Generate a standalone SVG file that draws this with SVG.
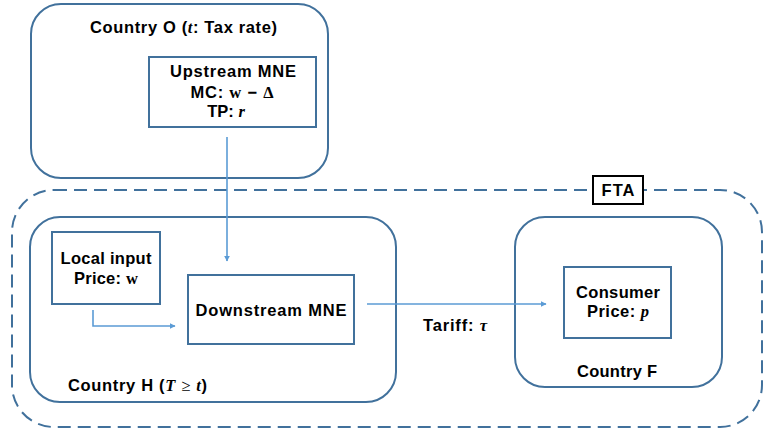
<svg xmlns="http://www.w3.org/2000/svg" width="766" height="432" viewBox="0 0 766 432">
<style>
.t{font-family:"Liberation Sans",Arial,sans-serif;font-weight:bold;font-size:16.5px;fill:#000}
.m{font-family:"Liberation Serif","DejaVu Serif",serif;font-style:italic;font-weight:bold}
.u{font-family:"Liberation Serif","DejaVu Serif",serif;font-style:normal;font-weight:bold}
.r{font-family:"Liberation Serif","DejaVu Serif",serif;font-weight:normal}
.reg{fill:#fff;stroke:#41719C;stroke-width:2}
.box{fill:#fff;stroke:#41719C;stroke-width:2}
.c{fill:none;stroke:#5B9BD5;stroke-width:1.6}
</style>
<defs>
<marker id="ah" viewBox="0 0 10 10" refX="9" refY="5" markerWidth="6" markerHeight="6" markerUnits="userSpaceOnUse" orient="auto">
<path d="M0,0 L10,5 L0,10 Z" fill="#5B9BD5"/>
</marker>
</defs>
<rect width="766" height="432" fill="#fff"/>
<g id="fta">
<rect x="12" y="190" width="750" height="237" rx="42" ry="42" fill="none" stroke="#41719C" stroke-width="2" stroke-dasharray="13 7"/>
<rect x="593" y="176" width="50" height="28" fill="#fff" stroke="#000" stroke-width="2"/>
<text class="t" x="618" y="196" text-anchor="middle" textLength="33" lengthAdjust="spacing">FTA</text>
</g>
<g id="countryO">
<rect class="reg" x="31" y="4" width="297" height="174" rx="30" ry="30"/>
<text class="t" x="90" y="33" textLength="187" lengthAdjust="spacing">Country O (<tspan class="m">t</tspan>: Tax rate)</text>
</g>
<g id="countryH">
<rect class="reg" x="30" y="217" width="366" height="185" rx="30" ry="30"/>
<text class="t" x="68" y="391" textLength="139" lengthAdjust="spacing">Country H (<tspan class="m">T</tspan> <tspan class="r">≥</tspan> <tspan class="m">t</tspan>)</text>
</g>
<g id="countryF">
<rect class="reg" x="515" y="217" width="207" height="170" rx="30" ry="30"/>
<text class="t" x="617" y="377" text-anchor="middle" textLength="80" lengthAdjust="spacing">Country F</text>
</g>
<g id="upstream">
<rect class="box" x="149" y="57" width="167" height="70"/>
<text class="t" x="233" y="77" text-anchor="middle" textLength="126" lengthAdjust="spacing">Upstream MNE</text>
<text class="t" x="232" y="98" text-anchor="middle" textLength="83" lengthAdjust="spacing">MC: <tspan class="u">w</tspan> − <tspan class="u">Δ</tspan></text>
<text class="t" x="226" y="117" text-anchor="middle">TP: <tspan class="m">r</tspan></text>
</g>
<g id="local">
<rect class="box" x="52" y="232" width="108" height="72"/>
<text class="t" x="106" y="264" text-anchor="middle" textLength="91" lengthAdjust="spacing">Local input</text>
<text class="t" x="106" y="284" text-anchor="middle" textLength="64" lengthAdjust="spacing">Price: <tspan class="u">w</tspan></text>
</g>
<g id="downstream">
<rect class="box" x="188" y="275" width="166" height="69"/>
<text class="t" x="271" y="316" text-anchor="middle" textLength="151" lengthAdjust="spacing">Downstream MNE</text>
</g>
<g id="consumer">
<rect class="box" x="564" y="267" width="107" height="71"/>
<text class="t" x="618" y="298" text-anchor="middle" textLength="84" lengthAdjust="spacing">Consumer</text>
<text class="t" x="618" y="317" text-anchor="middle" textLength="62" lengthAdjust="spacing">Price: <tspan class="m">p</tspan></text>
</g>
<g id="connectors">
<path class="c" d="M227,137 L227,261" marker-end="url(#ah)"/>
<path class="c" d="M93,310 L93,326 L175,326" marker-end="url(#ah)"/>
<path class="c" d="M367,304 L546,304" marker-end="url(#ah)"/>
<text class="t" x="423" y="331" textLength="64" lengthAdjust="spacing">Tariff: <tspan class="m">τ</tspan></text>
</g>
</svg>
